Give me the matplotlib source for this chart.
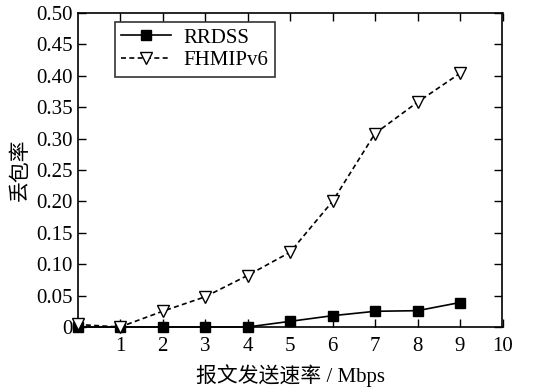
import matplotlib
matplotlib.use("Agg")
import matplotlib.pyplot as plt

plt.rcParams['font.family'] = ['Liberation Serif', 'Noto Sans CJK SC']

rate = [0, 1, 2, 3, 4, 5, 6, 7, 8, 9]
rrdss = [0.0, 0.0, 0.0, 0.0, 0.0, 0.009, 0.018, 0.025, 0.026, 0.039]
fhmipv6 = [0.004, 0.0, 0.025, 0.048, 0.082, 0.119, 0.200, 0.308, 0.358, 0.404]
xticks = [1, 2, 3, 4, 5, 6, 7, 8, 9, 10]
yticks = [0, 0.05, 0.10, 0.15, 0.20, 0.25, 0.30, 0.35, 0.40, 0.45, 0.50]
ylabels = ["0", "0.05", "0.10", "0.15", "0.20", "0.25", "0.30", "0.35", "0.40", "0.45", "0.50"]

fig = plt.figure(figsize=(5.59, 3.89), dpi=100)
ax = fig.add_axes([77.5 / 559, 62 / 389, 425 / 559, 314 / 389])

ax.plot(rate, rrdss, '-', color='black', lw=1.2, marker='s', ms=7.5,
        mfc='black', mec='black', label='RRDSS', clip_on=False, zorder=3)
ax.plot(rate, fhmipv6, color='black', lw=1.2, ls=(0, (3, 2)), marker='v', ms=8.5,
        mfc='white', mec='black', label='FHMIPv6', clip_on=False, zorder=3)

ax.set_xlim(0, 10)
ax.set_ylim(0, 0.5)
ax.set_xticks(xticks)
ax.set_yticks(yticks)
ax.set_yticklabels(ylabels)
ax.tick_params(direction='in', top=True, right=True, labelsize=15, length=6, width=1)
ax.tick_params(axis='x', pad=7)
for s in ax.spines.values():
    s.set_linewidth(1.2)

ax.set_xlabel('报文发送速率 / Mbps', fontsize=15, labelpad=6,
              family=['Liberation Serif', 'Noto Sans CJK SC'])
ax.set_ylabel('丢包率', fontsize=15, family=['Noto Sans CJK SC'])

leg = ax.legend(loc='upper left', bbox_to_anchor=(0.088, 0.972), borderaxespad=0,
                fontsize=15, frameon=True, fancybox=False, edgecolor='black',
                handlelength=2.4, borderpad=0.3, labelspacing=0.15, handletextpad=0.6)
leg.get_frame().set_linewidth(1.2)

fig.savefig('out.png', dpi=100)
